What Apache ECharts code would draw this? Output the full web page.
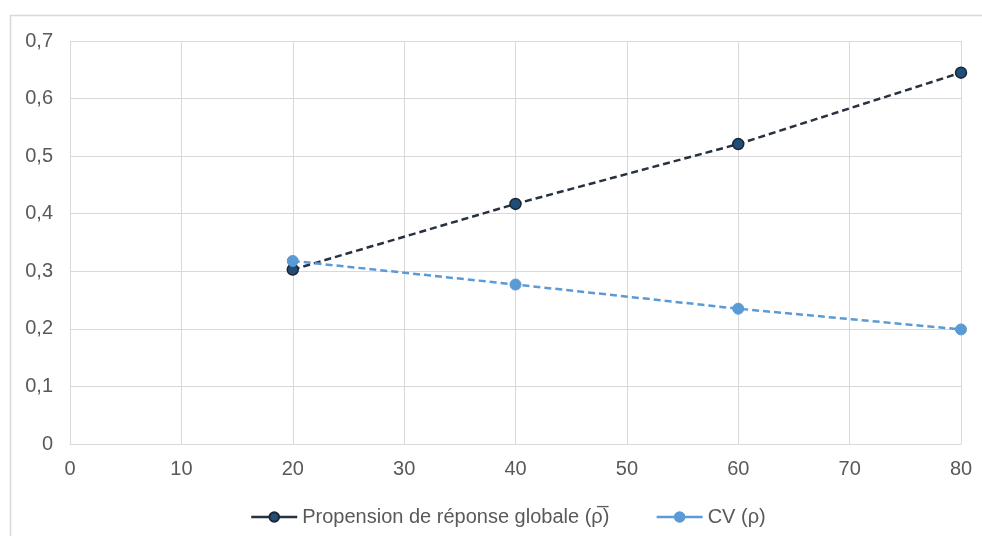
<!DOCTYPE html>
<html>
<head>
<meta charset="utf-8">
<script src="https://cdn.jsdelivr.net/npm/echarts@6/dist/echarts.min.js"></script>
<style>
  html, body { margin: 0; padding: 0; background: #fff; }
  #chart { width: 982px; height: 536px; }
</style>
</head>
<body>
<div id="chart"></div>
<script>
// Sample size (x) against the two response indicators
const sampleSizes = [20, 40, 60, 80];
const propensionGlobale = [0.303, 0.417, 0.521, 0.645];
const cvRho = [0.318, 0.277, 0.235, 0.199];
const seriesNames = ['Propension de réponse globale (\u03C1\u0305)', 'CV (\u03C1)'];

const fmtComma = v => String(v).replace('.', ',');
const textColor = '#595959';
const gridColor = '#d9d9d9';
const font = '"Liberation Sans", Arial, sans-serif';

const chart = echarts.init(document.getElementById('chart'), null, { renderer: 'canvas' });
chart.setOption({
  backgroundColor: '#ffffff',
  animation: false,
  graphic: [{
    type: 'rect',
    left: 8, top: 13,
    shape: { width: 1000, height: 560 },
    style: { fill: 'none', stroke: '#d9d9d9', lineWidth: 1.5 },
    silent: true,
    z: -1
  }],
  grid: { left: 70, right: 21, top: 41, bottom: 92, containLabel: false },
  xAxis: {
    type: 'value',
    min: 0, max: 80, interval: 10,
    axisLine: { show: true, lineStyle: { color: gridColor } },
    axisTick: { show: false },
    splitLine: { show: true, lineStyle: { color: gridColor, width: 1 } },
    axisLabel: { color: textColor, fontSize: 20, fontFamily: font, margin: 15 }
  },
  yAxis: {
    type: 'value',
    min: 0, max: 0.7, interval: 0.1,
    axisLine: { show: false },
    axisTick: { show: false },
    splitLine: { show: true, lineStyle: { color: gridColor, width: 1 } },
    axisLabel: { color: textColor, fontSize: 20, fontFamily: font, margin: 17,
      formatter: v => fmtComma(Math.round(v * 10) / 10) }
  },
  legend: {
    bottom: 4,
    left: 245,
    itemWidth: 46,
    itemHeight: 12,
    itemGap: 46,
    textStyle: { color: textColor, fontSize: 20, fontFamily: font },
    lineStyle: { type: 'solid', width: 2.5 },
    data: seriesNames
  },
  series: [
    {
      name: seriesNames[0],
      type: 'line',
      data: sampleSizes.map((x, i) => [x, propensionGlobale[i]]),
      symbol: 'circle',
      symbolSize: 11,
      lineStyle: { color: '#27313f', width: 2.5, type: [7, 4] },
      itemStyle: { color: '#1f4e79', borderColor: '#1c2530', borderWidth: 1.5 },
      z: 3
    },
    {
      name: seriesNames[1],
      type: 'line',
      data: sampleSizes.map((x, i) => [x, cvRho[i]]),
      symbol: 'circle',
      symbolSize: 11,
      lineStyle: { color: '#5b9bd5', width: 2.5, type: [7, 4] },
      itemStyle: { color: '#5b9bd5', borderColor: '#5b9bd5', borderWidth: 1 },
      z: 4
    }
  ]
});
</script>
</body>
</html>
